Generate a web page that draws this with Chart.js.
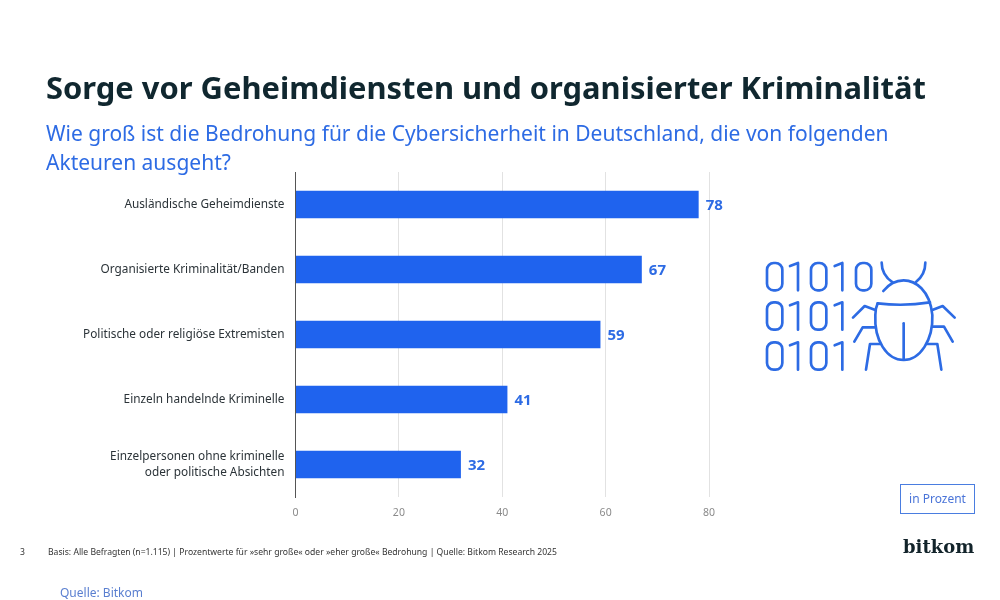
<!DOCTYPE html>
<html lang="de">
<head>
<meta charset="utf-8">
<title>Sorge vor Geheimdiensten und organisierter Kriminalität</title>
<script src="https://cdn.jsdelivr.net/npm/chart.js@4"></script>
<style>
    html, body { margin: 0; padding: 0; background: #fff; }
    #page { position: relative; width: 1000px; height: 600px; overflow: hidden; font-family: "Noto Sans", sans-serif; }
    #page div { position: absolute; white-space: nowrap; }
    #myChart { position: absolute; left: 0; top: 0; }
    #title { left: 46px; top: 66px; font-size: 30.9px; line-height: 42px; font-weight: 700; color: #10272f; }
    #subtitle { left: 46px; top: 119px; font-size: 21px; line-height: 29px; color: #2d6be4; }
    #unit { left: 900px; top: 484px; width: 73px; height: 28px; line-height: 28px; text-align: center; border: 1px solid #4a7de0; font-size: 12px; color: #4a74d8; }
    #logo { left: 903px; top: 532px; font-family: "DejaVu Serif", serif; font-weight: 700; font-size: 18px; line-height: 30px; color: #12232a; }
    #pageNo { left: 20px; top: 546px; font-size: 8.6px; line-height: 12px; color: #333; }
    #basis { left: 48px; top: 546px; font-size: 8.6px; line-height: 12px; color: #333; }
    #source { left: 60px; top: 584px; font-size: 12px; line-height: 17px; color: #5a7fd0; }
    #bug { position: absolute; left: 740px; top: 240px; }
</style>
</head>
<body>
<div id="page">
    <canvas id="myChart" width="1000" height="600"></canvas>
    <div id="title">Sorge vor Geheimdiensten und organisierter Kriminalität</div>
    <div id="subtitle">Wie groß ist die Bedrohung für die Cybersicherheit in Deutschland, die von folgenden<br>Akteuren ausgeht?</div>
    <svg id="bug" width="240" height="150" viewBox="0 0 720 450" fill="none" stroke="#2d6be4" stroke-width="8" stroke-linecap="round" stroke-linejoin="round">
        <!-- ziffern -->
        <rect x="81" y="69" width="46" height="82" rx="20"/><path d="M150 78 L174 69 V151"/>
        <rect x="213" y="69" width="46" height="82" rx="20"/><path d="M284 78 L307 69 V151"/>
        <rect x="348" y="69" width="46" height="82" rx="20"/>
        <rect x="81" y="187" width="46" height="82" rx="20"/><path d="M150 196 L174 187 V269"/>
        <rect x="213" y="187" width="46" height="82" rx="20"/><path d="M284 196 L307 187 V269"/>
        <rect x="81" y="307" width="46" height="82" rx="20"/><path d="M150 316 L174 307 V389"/>
        <rect x="213" y="307" width="46" height="82" rx="20"/><path d="M284 316 L307 307 V389"/>
        <!-- kaefer -->
        <path d="M430 153 C450 128 470 121 491 121 C525 121 570 150 577 225 C580 300 540 360 491 360 C440 360 402 300 406 225 C406 212 408 200 413 190"/>
        <path d="M413 190 Q491 200 570 187"/>
        <path d="M491 250 V358"/>
        <path d="M425 68 C425 95 440 115 458 127"/>
        <path d="M556 68 C556 95 542 115 527 127"/>
        <path d="M406 210 L374 198 L339 233"/>
        <path d="M404 262 H368 L343 305"/>
        <path d="M420 312 H390 L378 389"/>
        <path d="M577 210 L608 198 L644 233"/>
        <path d="M578 260 H612 L638 305"/>
        <path d="M562 312 H592 L604 389"/>
    </svg>
    <div id="unit">in Prozent</div>
    <div id="logo">bitkom</div>
    <div id="pageNo">3</div>
    <div id="basis">Basis: Alle Befragten (n=1.115) | Prozentwerte für »sehr große« oder »eher große« Bedrohung | Quelle: Bitkom Research 2025</div>
    <div id="source">Quelle: Bitkom</div>
</div>
<script>
const kategorien = [
    "Ausländische Geheimdienste",
    "Organisierte Kriminalität/Banden",
    "Politische oder religiöse Extremisten",
    "Einzeln handelnde Kriminelle",
    ["Einzelpersonen ohne kriminelle", "oder politische Absichten"]
];
const werte = [78, 67, 59, 41, 32];
const xTicks = [0, 20, 40, 60, 80];

const blau = "#1f63ee";

// schreibt den wert rechts neben jeden balken
const wertLabels = {
    id: "wertLabels",
    afterDatasetsDraw(chart) {
        const ctx = chart.ctx;
        ctx.save();
        ctx.font = "700 15px 'Noto Sans'";
        ctx.fillStyle = "#2d6be4";
        ctx.textBaseline = "middle";
        chart.getDatasetMeta(0).data.forEach(function (bar, i) {
            ctx.fillText(werte[i], bar.x + 7, bar.y + 1.5);
        });
        ctx.restore();
    }
};

new Chart(document.getElementById("myChart").getContext("2d"), {
    type: "bar",
    data: {
        labels: kategorien,
        datasets: [{
            data: werte,
            backgroundColor: blau,
            barPercentage: 0.42,
            categoryPercentage: 1
        }]
    },
    options: {
        indexAxis: "y",
        responsive: false,
        animation: false,
        layout: { padding: { top: 172, right: 291, bottom: 73, left: 0 } },
        plugins: { legend: { display: false }, tooltip: { enabled: false } },
        scales: {
            x: {
                min: 0,
                max: 80,
                afterFit: function (scale) { scale.height = 30; },
                afterBuildTicks: function (scale) { scale.ticks = xTicks.map(function (v) { return { value: v }; }); },
                grid: { color: "#e2e2e2", drawTicks: false },
                border: { display: false },
                ticks: { color: "#8a8a8a", font: { family: "Noto Sans", size: 10.5 }, padding: 10, maxRotation: 0 }
            },
            y: {
                afterFit: function (scale) { scale.width = 295.5; },
                grid: { display: false, drawTicks: false },
                border: { color: "#555", width: 1 },
                ticks: { color: "#2b3338", font: { family: "Noto Sans", size: 11.8, lineHeight: 1.35 }, padding: 11 }
            }
        }
    },
    plugins: [wertLabels]
});
</script>
</body>
</html>
